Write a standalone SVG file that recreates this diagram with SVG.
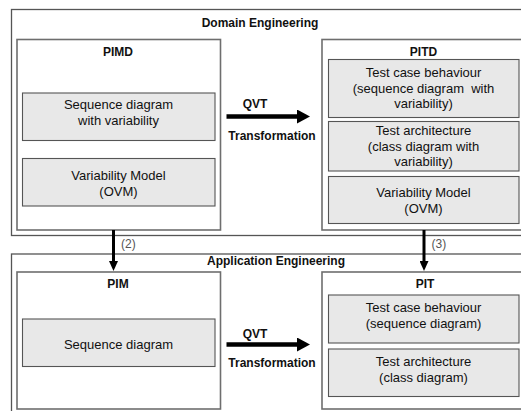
<svg xmlns="http://www.w3.org/2000/svg" width="521" height="411" viewBox="0 0 521 411">
<style>
.outer{fill:none;stroke:#555;stroke-width:1.3}
.model{fill:#fff;stroke:#6e6e6e;stroke-width:1.6}
.inner{fill:#e8e8e8;stroke:#555;stroke-width:1.1}
text{font-family:"Liberation Sans",Arial,sans-serif;fill:#111;text-anchor:middle}
.t{font-size:13px}
.h{font-size:12px;font-weight:bold}
.n{font-size:12px;fill:#555;text-anchor:start}
.big{stroke:#000;stroke-width:4.5;fill:none}
.small{stroke:#000;stroke-width:3;fill:none}
</style>
<defs>
<marker id="headL" viewBox="0 0 13 14" markerWidth="13" markerHeight="14" refX="0.5" refY="7" markerUnits="userSpaceOnUse" orient="auto"><path d="M0,0 L13,7 L0,14 z" fill="#000"/></marker>
<marker id="headS" viewBox="0 0 10 9" markerWidth="10" markerHeight="9" refX="0.5" refY="4.5" markerUnits="userSpaceOnUse" orient="auto"><path d="M0,0 L10,4.5 L0,9 z" fill="#000"/></marker>
</defs>

<g id="domain">
<rect class="outer" x="11.5" y="9.5" width="520" height="226"/>
<text class="h" x="260" y="27">Domain Engineering</text>
</g>
<g id="application">
<rect class="outer" x="11.5" y="254" width="520" height="170"/>
<text class="h" x="276" y="265">Application Engineering</text>
</g>

<g id="pimd">
<rect class="model" x="17" y="39.5" width="203.5" height="190.5"/>
<text class="h" x="118" y="56">PIMD</text>
<g id="pimd-seq">
<rect class="inner" x="22.5" y="93" width="192.5" height="47.5"/>
<text class="t" x="118.5" y="109">Sequence diagram</text>
<text class="t" x="118.5" y="125">with variability</text>
</g>
<g id="pimd-ovm">
<rect class="inner" x="22.5" y="158.5" width="192.5" height="47.5"/>
<text class="t" x="118.5" y="179.5">Variability Model</text>
<text class="t" x="118.5" y="196">(OVM)</text>
</g>
</g>

<g id="pitd">
<rect class="model" x="322" y="39.5" width="210" height="190.5"/>
<text class="h" x="423.5" y="56">PITD</text>
<g id="pitd-tc">
<rect class="inner" x="328.5" y="59.5" width="190.5" height="58"/>
<text class="t" x="423.5" y="77">Test case behaviour</text>
<text class="t" x="423.5" y="92.5" xml:space="preserve">(sequence diagram  with</text>
<text class="t" x="423.5" y="108">variability)</text>
</g>
<g id="pitd-ta">
<rect class="inner" x="328.5" y="121.5" width="190.5" height="49.5"/>
<text class="t" x="423.5" y="134.5">Test architecture</text>
<text class="t" x="423.5" y="150.5">(class diagram with</text>
<text class="t" x="423.5" y="166">variability)</text>
</g>
<g id="pitd-ovm">
<rect class="inner" x="328.5" y="176.5" width="190.5" height="47"/>
<text class="t" x="423.5" y="197">Variability Model</text>
<text class="t" x="423.5" y="212.5">(OVM)</text>
</g>
</g>

<g id="pim">
<rect class="model" x="17" y="272" width="203.5" height="137"/>
<text class="h" x="118" y="287.5">PIM</text>
<g id="pim-seq">
<rect class="inner" x="22.5" y="319" width="192.5" height="47.5"/>
<text class="t" x="118.5" y="348.5">Sequence diagram</text>
</g>
</g>

<g id="pit">
<rect class="model" x="322" y="272" width="210" height="137"/>
<text class="h" x="425" y="287.5">PIT</text>
<g id="pit-tc">
<rect class="inner" x="328.5" y="295" width="190.5" height="48"/>
<text class="t" x="423.5" y="311.5">Test case behaviour</text>
<text class="t" x="423.5" y="327.5">(sequence diagram)</text>
</g>
<g id="pit-ta">
<rect class="inner" x="328.5" y="349" width="190.5" height="47.5"/>
<text class="t" x="423.5" y="365.5">Test architecture</text>
<text class="t" x="423.5" y="381.5">(class diagram)</text>
</g>
</g>

<g id="connectors">
<line class="big" x1="226.5" y1="116.5" x2="297.5" y2="116.5" marker-end="url(#headL)"/>
<text class="h" x="255" y="107.5">QVT</text>
<text class="h" x="272" y="140">Transformation</text>
<line class="big" x1="226.5" y1="344.5" x2="297.5" y2="344.5" marker-end="url(#headL)"/>
<text class="h" x="255" y="337.5">QVT</text>
<text class="h" x="272" y="367">Transformation</text>
<line class="small" x1="113.5" y1="230" x2="113.5" y2="261.5" marker-end="url(#headS)"/>
<text class="n" x="121" y="248">(2)</text>
<line class="small" x1="424" y1="230" x2="424" y2="261.5" marker-end="url(#headS)"/>
<text class="n" x="431.5" y="248">(3)</text>
</g>
</svg>
